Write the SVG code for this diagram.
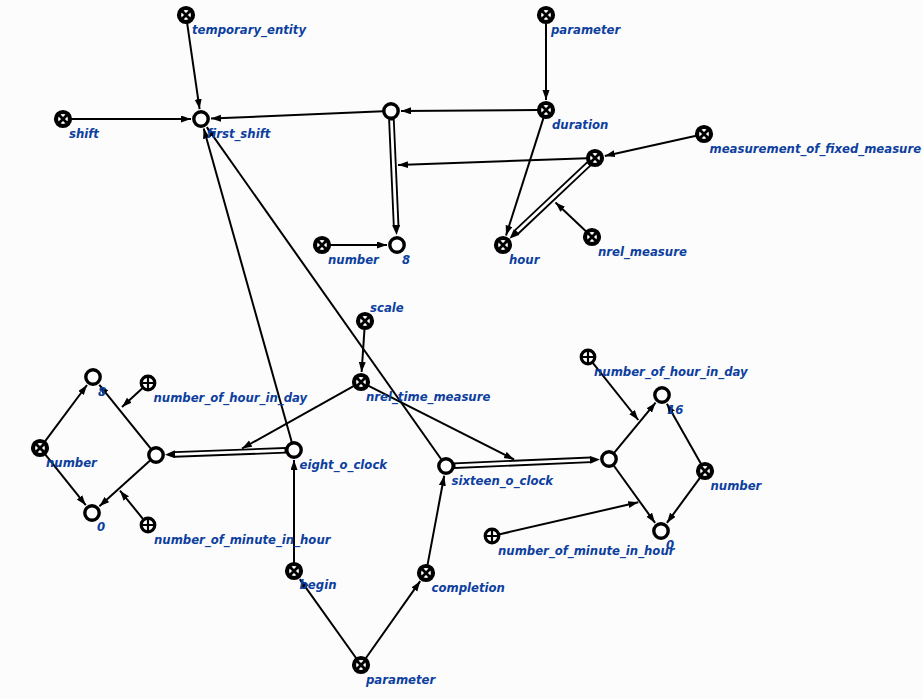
<svg xmlns="http://www.w3.org/2000/svg" xmlns:xlink="http://www.w3.org/1999/xlink" width="922" height="699" viewBox="0 0 922 699">
  <style>
    .bg { fill: #fcfcfc; }
    .arc { stroke: #000; stroke-width: 2; fill: none; marker-end: url(#arr); }
    .dbl-out { stroke: #000; stroke-width: 6.5; fill: none; }
    .dbl-in { stroke: #fff; stroke-width: 2.8; fill: none; }
    .dbl-head { stroke: none; fill: none; marker-end: url(#arrD); }
    .lbl { font-family: "DejaVu Sans", sans-serif; font-size: 11.7px; font-weight: bold; font-style: italic; fill: #0d3f9f; }
  </style>
  <defs>
    <marker id="arr" markerUnits="userSpaceOnUse" markerWidth="11" markerHeight="8" refX="10" refY="3.5" orient="auto">
      <path d="M0,0 L10,3.5 L0,7 z" fill="#000"/>
    </marker>
    <marker id="arrD" markerUnits="userSpaceOnUse" markerWidth="11" markerHeight="9" refX="10" refY="4" orient="auto">
      <path d="M0,0 L10,4 L0,8 z" fill="#000"/>
    </marker>
    <!-- constant node: ring with a cross -->
    <g id="sym-cross">
      <circle r="7" fill="#fff" stroke="#000" stroke-width="4.2"/>
      <path d="M-5,-5 L5,5 M-5,5 L5,-5" stroke="#000" stroke-width="2.8"/>
    </g>
    <!-- plain node: open ring -->
    <g id="sym-ring">
      <circle r="7.2" fill="#fff" stroke="#000" stroke-width="3.4"/>
    </g>
    <!-- ring with a plus -->
    <g id="sym-plus">
      <circle r="6.8" fill="#fff" stroke="#000" stroke-width="3.2"/>
      <path d="M-6.8,0 L6.8,0 M0,-6.8 L0,6.8" stroke="#000" stroke-width="2.2"/>
    </g>
  </defs>

  <rect class="bg" x="0" y="0" width="922" height="699"/>

  <g id="connectors">
    <!-- upper part -->
    <path class="arc" d="M187.1,22.9 L199.6,109.1"/>
    <path class="arc" d="M71,119 L191,119"/>
    <path class="arc" d="M383,111.3 L211,118.6"/>
    <path class="arc" d="M538,110.1 L401,110.9"/>
    <path class="arc" d="M546,23 L546,100"/>
    <path class="dbl-out" d="M391.4,119 L396.2,227"/>
    <path class="dbl-in" d="M391.5,120.5 L396.1,225.5"/>
    <path class="dbl-head" d="M396.2,226 L396.6,235"/>
    <path class="arc" d="M587,158.3 L398,165"/>
    <path class="arc" d="M696.2,135.7 L604.8,155.9"/>
    <path class="dbl-out" d="M589.2,163.5 L516,232.6"/>
    <path class="dbl-in" d="M588.2,164.5 L517,231.6"/>
    <path class="dbl-head" d="M516,232.6 L509.5,238.8"/>
    <path class="arc" d="M543.6,117.6 L506,235.5"/>
    <path class="arc" d="M586.2,231.5 L555.5,202.4"/>
    <path class="arc" d="M330,245 L387,245"/>

    <!-- links into first_shift -->
    <path class="arc" d="M291.8,442.3 L203.7,128.6"/>
    <path class="arc" d="M441.4,459.5 L206.8,127.2"/>

    <!-- time measure -->
    <path class="arc" d="M364.5,329 L361.6,372"/>
    <path class="arc" d="M354,385.9 L242,448.5"/>
    <path class="arc" d="M368.1,385.6 L514,459.5"/>
    <path class="dbl-out" d="M286,450.3 L174,454.4"/>
    <path class="dbl-in" d="M284.5,450.4 L175,454.3"/>
    <path class="dbl-head" d="M174,454.4 L165,454.7"/>
    <path class="dbl-out" d="M454,465.7 L591,459.8"/>
    <path class="dbl-in" d="M455.5,465.6 L590,459.8"/>
    <path class="dbl-head" d="M591,459.8 L600,459.4"/>

    <!-- begin / completion -->
    <path class="arc" d="M294,563 L294,460"/>
    <path class="arc" d="M356.4,658.5 L299.8,579.1"/>
    <path class="arc" d="M365.6,658.5 L420.2,581.2"/>
    <path class="arc" d="M427.5,565.1 L444.2,475.8"/>

    <!-- left tuple -->
    <path class="arc" d="M151,448.8 L99.3,384.8"/>
    <path class="arc" d="M142.1,388.4 L122,407"/>
    <path class="arc" d="M150.1,460.4 L99.4,506.3"/>
    <path class="arc" d="M142.9,518.8 L120,490.7"/>
    <path class="arc" d="M44.8,441.6 L87,385"/>
    <path class="arc" d="M45,454.2 L85.8,505.2"/>

    <!-- right tuple -->
    <path class="arc" d="M614.1,452.8 L655.6,402.7"/>
    <path class="arc" d="M593,363.2 L638.3,420"/>
    <path class="arc" d="M613.7,465.5 L655.1,522.9"/>
    <path class="arc" d="M499.8,534.2 L638.3,502.3"/>
    <path class="arc" d="M701.1,464 L666.9,403.7"/>
    <path class="arc" d="M700.3,477.4 L666.9,522.9"/>
  </g>

  <g id="n-temporary-entity" transform="translate(186,15)"><use href="#sym-cross"/><text class="lbl" x="6" y="19">temporary_entity</text></g>
  <g id="n-parameter-top" transform="translate(546,15)"><use href="#sym-cross"/><text class="lbl" x="5" y="19">parameter</text></g>
  <g id="n-shift" transform="translate(63,119)"><use href="#sym-cross"/><text class="lbl" x="6" y="18.5">shift</text></g>
  <g id="n-first-shift" transform="translate(201,119)"><use href="#sym-ring"/><text class="lbl" x="6" y="18.5">first_shift</text></g>
  <g id="n-duration-value" transform="translate(391,111)"><use href="#sym-ring"/></g>
  <g id="n-duration" transform="translate(546,110)"><use href="#sym-cross"/><text class="lbl" x="6" y="19">duration</text></g>
  <g id="n-measurement" transform="translate(704,134)"><use href="#sym-cross"/><text class="lbl" x="5.5" y="19">measurement_of_fixed_measure</text></g>
  <g id="n-measure-link" transform="translate(595,158)"><use href="#sym-cross"/></g>
  <g id="n-number-top" transform="translate(322,245)"><use href="#sym-cross"/><text class="lbl" x="6" y="18.5">number</text></g>
  <g id="n-eight-top" transform="translate(397,245)"><use href="#sym-ring"/><text class="lbl" x="5" y="18.5">8</text></g>
  <g id="n-hour" transform="translate(503,245)"><use href="#sym-cross"/><text class="lbl" x="6" y="18.5">hour</text></g>
  <g id="n-nrel-measure" transform="translate(592,237)"><use href="#sym-cross"/><text class="lbl" x="6" y="19">nrel_measure</text></g>

  <g id="n-scale" transform="translate(365,321)"><use href="#sym-cross"/><text class="lbl" x="5" y="-9">scale</text></g>
  <g id="n-nrel-time-measure" transform="translate(361,382)"><use href="#sym-cross"/><text class="lbl" x="5" y="19">nrel_time_measure</text></g>

  <g id="n-number-left" transform="translate(40,448)"><use href="#sym-cross"/><text class="lbl" x="6" y="19">number</text></g>
  <g id="n-eight-left" transform="translate(93,377)"><use href="#sym-ring"/><text class="lbl" x="5" y="18.5">8</text></g>
  <g id="n-zero-left" transform="translate(92,513)"><use href="#sym-ring"/><text class="lbl" x="5" y="18">0</text></g>
  <g id="n-hour-in-day-left" transform="translate(148,383)"><use href="#sym-plus"/><text class="lbl" x="5.5" y="18.5">number_of_hour_in_day</text></g>
  <g id="n-minute-in-hour-left" transform="translate(148,525)"><use href="#sym-plus"/><text class="lbl" x="6" y="19">number_of_minute_in_hour</text></g>
  <g id="n-eight-tuple" transform="translate(156,455)"><use href="#sym-ring"/></g>
  <g id="n-eight-o-clock" transform="translate(294,450)"><use href="#sym-ring"/><text class="lbl" x="5.5" y="18.5">eight_o_clock</text></g>

  <g id="n-begin" transform="translate(294,571)"><use href="#sym-cross"/><text class="lbl" x="5.5" y="17.5">begin</text></g>
  <g id="n-completion" transform="translate(426,573)"><use href="#sym-cross"/><text class="lbl" x="5.5" y="19">completion</text></g>
  <g id="n-parameter-bottom" transform="translate(361,665)"><use href="#sym-cross"/><text class="lbl" x="5" y="19">parameter</text></g>

  <g id="n-sixteen-o-clock" transform="translate(446,466)"><use href="#sym-ring"/><text class="lbl" x="5.5" y="18.5">sixteen_o_clock</text></g>
  <g id="n-sixteen-tuple" transform="translate(609,459)"><use href="#sym-ring"/></g>
  <g id="n-hour-in-day-right" transform="translate(588,357)"><use href="#sym-plus"/><text class="lbl" x="6" y="19">number_of_hour_in_day</text></g>
  <g id="n-sixteen" transform="translate(662,395)"><use href="#sym-ring"/><text class="lbl" x="5" y="18.5">16</text></g>
  <g id="n-number-right" transform="translate(705,471)"><use href="#sym-cross"/><text class="lbl" x="5.5" y="18.5">number</text></g>
  <g id="n-zero-right" transform="translate(661,531)"><use href="#sym-ring"/><text class="lbl" x="5" y="18">0</text></g>
  <g id="n-minute-in-hour-right" transform="translate(492,536)"><use href="#sym-plus"/><text class="lbl" x="6" y="19">number_of_minute_in_hour</text></g>
</svg>
